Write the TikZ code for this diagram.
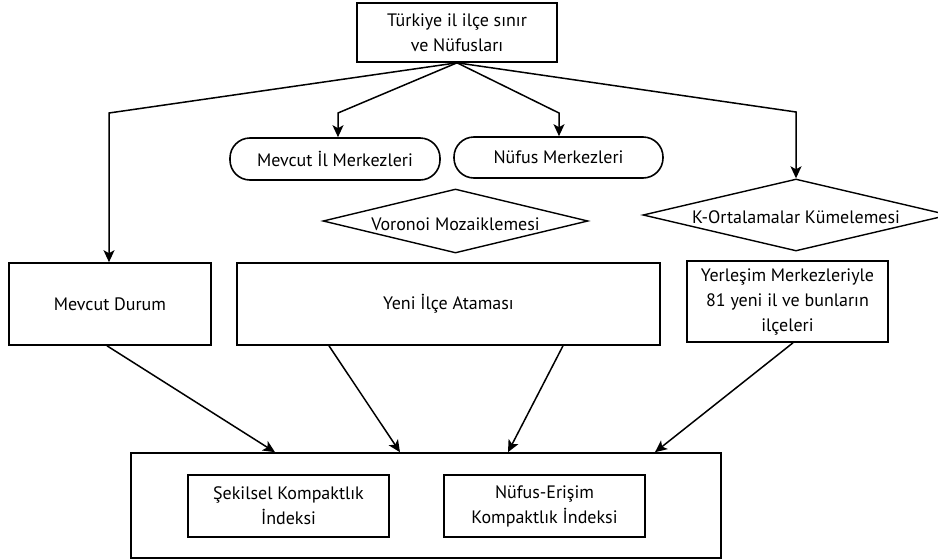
\documentclass[tikz,border=0pt]{standalone}
\usepackage{fontspec}
\setmainfont{PT Sans}
\usetikzlibrary{arrows.meta,shapes.geometric}
\begin{document}
\begin{tikzpicture}[x=1pt,y=-1pt,
  every node/.style={font=\fontsize{18}{25}\selectfont, inner sep=0pt, align=center},
  box/.style={draw, line width=1.6pt, rectangle},
  pill/.style={draw, line width=1.6pt, rectangle, rounded corners=20pt},
  dia/.style={draw, line width=1.4pt, diamond},
  arr/.style={line width=1.5pt, -{Stealth[length=12pt,width=11pt,inset=3pt]}},
  ln/.style={line width=1.5pt}]
\useasboundingbox (0,0) rectangle (938,560);
\fill[white] (0,0) rectangle (938,560);
% nodes
\node[box, minimum width=200pt, minimum height=59pt] (top) at (457,32.5) {Türkiye il ilçe sınır\\ve Nüfusları};
\node[pill, minimum width=210pt, minimum height=42pt] (mil) at (335,159) {Mevcut İl Merkezleri};
\node[pill, minimum width=209pt, minimum height=41pt] (nm) at (558.5,157.5) {Nüfus Merkezleri};
\node[dia, minimum width=265pt, minimum height=64pt] (vor) at (455.5,221) {};
\node at ([yshift=-3pt]vor.center) (vort) {Voronoi Mozaiklemesi};
\node[dia, minimum width=306pt, minimum height=72pt] (kd) at (796,215) {};
\node at ([yshift=-2pt]kd.center) (kdt) {K-Ortalamalar Kümelemesi};
\node[box, minimum width=202pt, minimum height=82pt] (md) at (110,304) {Mevcut Durum};
\node[box, minimum width=423pt, minimum height=82pt] (yeni) at (448.5,304) {Yeni İlçe Ataması};
\node[box, minimum width=201pt, minimum height=81pt] (yer) at (787.5,301.5) {Yerleşim Merkezleriyle\\81 yeni il ve bunların\\ilçeleri};
\node[box, minimum width=590pt, minimum height=105pt] (big) at (426,505.5) {};
\node[box, minimum width=201pt, minimum height=62pt] (sek) at (288.5,506) {Şekilsel Kompaktlık\\İndeksi};
\node[box, minimum width=201pt, minimum height=62pt] (ne) at (544.5,506) {Nüfus-Erişim\\Kompaktlık İndeksi};
% corners
\coordinate (c1) at (109,113);
\coordinate (c2) at (338,113);
\coordinate (c3) at (559,113);
\coordinate (c4) at (796,112);
\draw[arr] (top.south) -- (c1) -- (c1 |- md.north);
\draw[arr] (top.south) -- (c2) -- (c2 |- mil.north);
\draw[arr] (top.south) -- (c3) -- (c3 |- nm.north);
\draw[arr] (top.south) -- (c4) -- (kd.north);
% bottom arrows
\draw[arr] ([xshift=-3pt]md.south) -- ([xshift=-151pt]big.north);
\draw[arr] ([xshift=-119.5pt]yeni.south) -- ([xshift=-26pt]big.north);
\draw[arr] ([xshift=114.5pt]yeni.south) -- ([xshift=82pt]big.north);
\draw[arr] ([xshift=5.5pt]yer.south) -- ([xshift=229pt]big.north);
\end{tikzpicture}
\end{document}
